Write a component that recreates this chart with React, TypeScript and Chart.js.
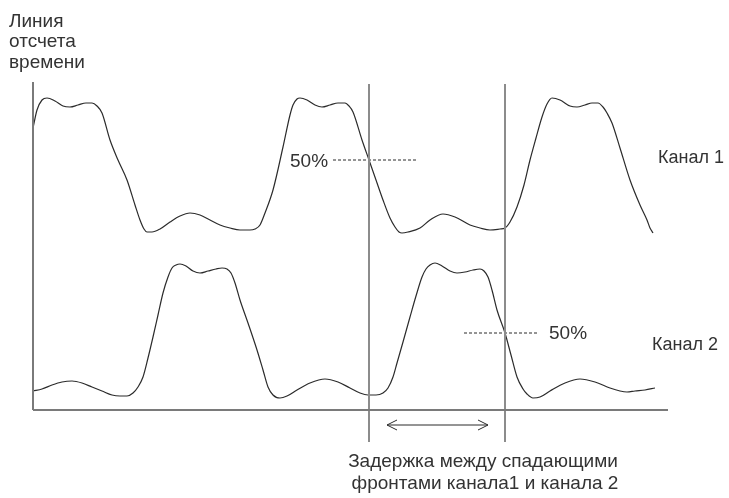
import React, { useEffect, useRef } from "react";
import { Chart, registerables } from "chart.js";

Chart.register(...registerables);

// Time axis (horizontal units) and level axis (vertical units, growing downwards as drawn)
const ch1Time = [33, 37, 42, 47, 55, 63, 70, 78, 86, 92, 97, 102, 110, 118, 127, 135, 140, 144, 147, 152, 160, 170, 180, 190, 200, 210, 220, 230, 240, 250, 255, 260, 265, 273, 283, 290, 293, 297, 300, 307, 315, 322, 330, 338, 345, 349, 353, 362, 369, 376, 383, 390, 395, 399, 402, 408, 420, 430, 443, 455, 470, 480, 490, 500, 505, 510, 517, 524, 530, 536, 542, 547, 552, 560, 570, 577, 585, 592, 598, 603, 607, 612, 620, 630, 640, 647, 650, 653];
const ch1Level = [128, 110, 100, 98, 101, 106, 107, 105, 103, 103, 106, 113, 140, 160, 180, 205, 220, 229, 232, 232, 229, 222, 216, 213, 215, 220, 225, 228, 230, 230, 229, 225, 213, 190, 147, 115, 105, 99, 98, 100, 105, 107, 105, 103, 103, 106, 112, 140, 160, 180, 200, 218, 227, 232, 233, 232, 228, 220, 214, 217, 225, 228, 230, 229, 228, 222, 207, 185, 160, 138, 117, 104, 98, 100, 106, 107, 105, 103, 103, 107, 113, 123, 148, 180, 205, 220, 228, 233];

const ch2Time = [33, 42, 52, 62, 72, 82, 92, 102, 112, 120, 127, 133, 138, 143, 148, 153, 158, 163, 168, 172, 176, 180, 186, 193, 200, 208, 216, 222, 227, 231, 235, 240, 248, 257, 263, 268, 273, 280, 287, 297, 310, 325, 338, 350, 360, 368, 376, 383, 388, 393, 397, 403, 410, 416, 422, 426, 430, 435, 442, 450, 457, 465, 473, 480, 484, 488, 492, 497, 505, 511, 517, 523, 527, 533, 540, 550, 565, 580, 595, 610, 620, 627, 635, 645, 655];
const ch2Level = [391, 389, 385, 382, 381, 383, 387, 391, 395, 396, 396, 393, 387, 377, 358, 337, 315, 293, 277, 268, 265, 264, 266, 271, 273, 271, 269, 268, 269, 273, 283, 300, 323, 350, 370, 387, 395, 398, 396, 390, 383, 379, 382, 388, 393, 395, 395, 393, 388, 377, 363, 342, 317, 296, 277, 269, 265, 263, 266, 271, 273, 272, 270, 269, 271, 277, 290, 310, 333, 355, 377, 389, 394, 398, 397, 391, 383, 379, 382, 388, 391, 392, 391, 390, 388];

// Reference axes of the diagram
const axisStartTime = 33;
const axisEndTime = 668;
const axisTopLevel = 82;
const axisBaseLevel = 410;

// Vertical markers through the falling edges
const markerTimes = [369, 505];
const markerTop = 84;
const markerBottom = 442;

// 50% threshold dashes: [startTime, endTime, level]
const ch1HalfDash = [333, 418, 160];
const ch2HalfDash = [464, 537, 333];

// Delay arrow: [startTime, endTime, level]
const delayArrow = [387, 488, 425];

// Text labels
const labelTexts = ["Линия", "отсчета", "времени", "50%", "Канал 1", "50%", "Канал 2", "Задержка между спадающими", "фронтами канала1 и канала 2"];
const labelTimes = [9, 9, 9, 290, 658, 549, 652, 483, 485];
const labelLevels = [27, 47, 68, 167, 163, 339, 350, 467, 489];
const labelAligns = ["left", "left", "left", "left", "left", "left", "left", "center", "center"];
const labelSizes = [19, 19, 19, 19, 18, 19, 18, 19, 19];

const zip = (xs: number[], ys: number[]) => xs.map((x, i) => ({ x, y: ys[i] }));

export default function App() {
  const ref = useRef<HTMLCanvasElement | null>(null);

  useEffect(() => {
    if (!ref.current) return;
    const trace = "#2b2b2b";
    const grey = "#8c8c8c";

    const overlay = {
      id: "overlay",
      afterDatasetsDraw(chart: any) {
        const { ctx, scales } = chart;
        const sx = scales.x;
        const sy = scales.y;
        ctx.save();
        // arrow
        const ax1 = sx.getPixelForValue(delayArrow[0]);
        const ax2 = sx.getPixelForValue(delayArrow[1]);
        const ay = sy.getPixelForValue(delayArrow[2]);
        const head = 10;
        const hw = 5;
        ctx.strokeStyle = trace;
        ctx.lineWidth = 1;
        ctx.beginPath();
        ctx.moveTo(ax1, ay);
        ctx.lineTo(ax2, ay);
        ctx.moveTo(ax1 + head, ay - hw);
        ctx.lineTo(ax1, ay);
        ctx.lineTo(ax1 + head, ay + hw);
        ctx.moveTo(ax2 - head, ay - hw);
        ctx.lineTo(ax2, ay);
        ctx.lineTo(ax2 - head, ay + hw);
        ctx.stroke();
        // texts
        ctx.fillStyle = "#333333";
        ctx.textBaseline = "alphabetic";
        labelTexts.forEach((t, i) => {
          ctx.font = `${labelSizes[i]}px "Liberation Sans", Arial, sans-serif`;
          ctx.textAlign = labelAligns[i];
          ctx.fillText(t, sx.getPixelForValue(labelTimes[i]), sy.getPixelForValue(labelLevels[i]));
        });
        ctx.restore();
      },
    };

    const line = (data: any[], color: string, width: number, extra: any = {}) => ({
      data,
      showLine: true,
      borderColor: color,
      borderWidth: width,
      pointRadius: 0,
      fill: false,
      ...extra,
    });

    const chart = new Chart(ref.current, {
      type: "scatter",
      data: {
        datasets: [
          line(zip([axisStartTime, axisStartTime], [axisTopLevel, axisBaseLevel]), "#7a7a7a", 2),
          line(zip([axisStartTime, axisEndTime], [axisBaseLevel, axisBaseLevel]), "#7a7a7a", 2),
          ...markerTimes.map((t) => line(zip([t, t], [markerTop, markerBottom]), grey, 2)),
          line(zip([ch1HalfDash[0], ch1HalfDash[1]], [ch1HalfDash[2], ch1HalfDash[2]]), trace, 1, { borderDash: [3, 2] }),
          line(zip([ch2HalfDash[0], ch2HalfDash[1]], [ch2HalfDash[2], ch2HalfDash[2]]), trace, 1, { borderDash: [3, 2] }),
          line(zip(ch1Time, ch1Level), trace, 1.2, { cubicInterpolationMode: "monotone" }),
          line(zip(ch2Time, ch2Level), trace, 1.2, { cubicInterpolationMode: "monotone" }),
        ],
      },
      options: {
        responsive: false,
        animation: false,
        devicePixelRatio: 1,
        layout: { padding: 0 },
        plugins: { legend: { display: false }, tooltip: { enabled: false } },
        scales: {
          x: { type: "linear", min: 0, max: 729, display: false },
          y: { type: "linear", min: 0, max: 498, reverse: true, display: false },
        },
      },
      plugins: [overlay],
    } as any);
    return () => chart.destroy();
  }, []);

  return (
    <div style={{ position: "fixed", left: 0, top: 0, width: 729, height: 498, background: "#fff" }}>
      <canvas ref={ref} width={729} height={498} style={{ display: "block" }} />
    </div>
  );
}
